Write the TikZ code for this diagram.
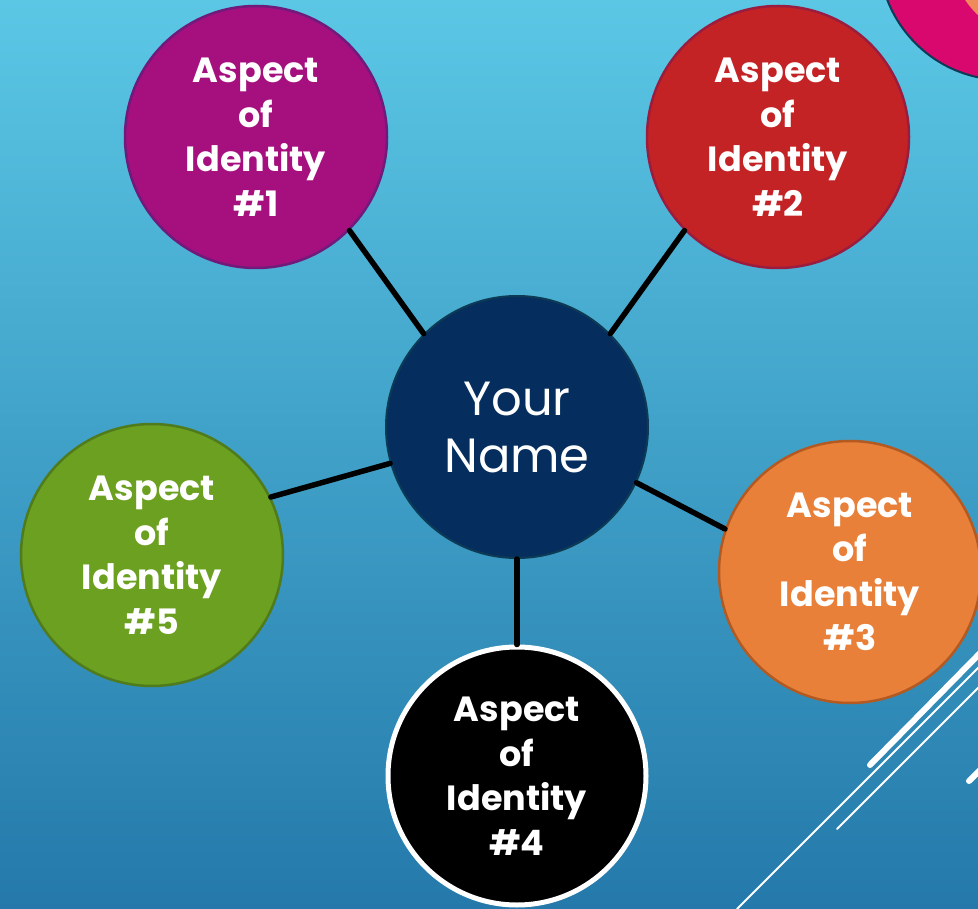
\documentclass[tikz,border=0pt]{standalone}
\usepackage{fontspec}
\setmainfont{Poppins}
\definecolor{bgtop}{HTML}{5BC7E5}
\definecolor{bgbot}{HTML}{2479AA}
\definecolor{pfill}{HTML}{A5107E}
\definecolor{pline}{HTML}{701A7C}
\definecolor{rfill}{HTML}{C42326}
\definecolor{rline}{HTML}{9A1D40}
\definecolor{ofill}{HTML}{E8803A}
\definecolor{oline}{HTML}{B35A22}
\definecolor{gfill}{HTML}{6BA020}
\definecolor{gline}{HTML}{4F7B1C}
\definecolor{nfill}{HTML}{052E5E}
\definecolor{nline}{HTML}{0D3B55}
\definecolor{pink}{HTML}{D8086F}
\definecolor{corange}{HTML}{F08A5A}
\tikzset{
  aspect/.style={circle, minimum size=262pt, inner sep=0pt, line width=2.5pt,
    text=white, align=center, font=\fontsize{35}{44.5}\selectfont\bfseries},
  hub/.style={circle, minimum size=262pt, inner sep=0pt, line width=2pt,
    fill=nfill, draw=nline, text=white, align=center, font=\fontsize{48}{57}\selectfont},
  spoke/.style={line width=5.5pt, black, line cap=round},
  deco/.style={white, line cap=round}
}
\begin{document}
\begin{tikzpicture}[x=1pt,y=-1pt]
\useasboundingbox (0,0) rectangle (978,909);
\shade[top color=bgtop, bottom color=bgbot] (0,0) rectangle (978,909);
% top-right decoration
\begin{scope}
\clip (0,0) rectangle (978,909);
\fill[pink, draw=nline, line width=2pt] (1004,-45) circle (125);
\fill[corange] (1040,-50) circle (90);
% bottom-right decorative lines
\draw[deco, line width=6pt] (870,765) -- (990,643);
\draw[deco, line width=6pt] (969,781) -- (990,760);
\draw[deco, line width=1.8pt] (737,909) -- (990,656);
\draw[deco, line width=1.8pt] (837,829) -- (990,676);
\end{scope}
% nodes
\node[hub] (c) at (517,427) {Your\\Name};
\node[aspect, fill=pfill, draw=pline] (a1) at (256,137) {Aspect\\of\\Identity\\\#1};
\node[aspect, fill=rfill, draw=rline] (a2) at (778,137) {Aspect\\of\\Identity\\\#2};
\node[aspect, fill=ofill, draw=oline] (a3) at (850,572) {Aspect\\of\\Identity\\\#3};
\node[aspect, fill=black, draw=white, line width=5pt, minimum size=258pt] (a4) at (517,776) {Aspect\\of\\Identity\\\#4};
\node[aspect, fill=gfill, draw=gline] (a5) at (152,555) {Aspect\\of\\Identity\\\#5};
% connectors
\draw[spoke] (c.135) -- (a1.-45);
\draw[spoke] (c.45) -- (a2.225);
\draw[spoke] (c.-25) -- (a3.161);
\draw[spoke] (c.south) -- (a4.north);
\draw[spoke] (c.196) -- (a5.26);
\end{tikzpicture}
\end{document}
